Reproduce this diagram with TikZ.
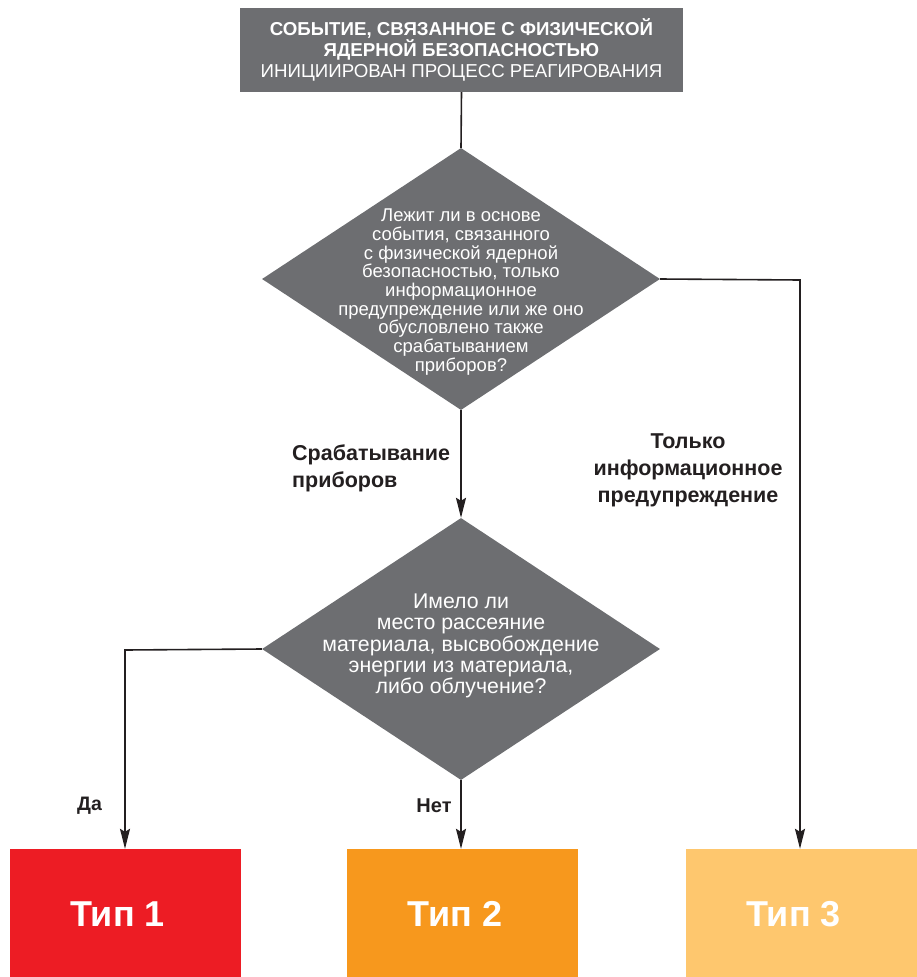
\documentclass[tikz,border=0pt]{standalone}
\usepackage{fontspec}
\setmainfont{Liberation Sans}
\usetikzlibrary{arrows.meta,shapes.geometric}
\definecolor{boxgray}{HTML}{6D6E71}
\definecolor{linecol}{HTML}{231F20}
\definecolor{tipred}{HTML}{ED1C24}
\definecolor{tiporange}{HTML}{F7981D}
\definecolor{tiplight}{HTML}{FEC76E}
\tikzset{
  conn/.style={draw=linecol, line width=1.6pt},
  arr/.style={conn, -{Stealth[length=20pt,width=10pt,inset=3pt]}},
  decision/.style={diamond, fill=boxgray, draw=none, inner sep=0pt, minimum width=398pt, minimum height=262pt},
  dtext/.style={text=white, align=center, inner sep=0pt},
  tipbox/.style={rectangle, draw=none, minimum width=231pt, minimum height=128pt, inner sep=0pt},
  tiptext/.style={text=white, inner sep=0pt, font=\fontsize{36}{40}\selectfont\bfseries},
  lbl/.style={text=linecol, inner sep=0pt, font=\fontsize{21.5}{27}\selectfont\bfseries}
}
\begin{document}
\begin{tikzpicture}[x=1pt,y=-1pt]
\useasboundingbox (0,0) rectangle (917,977);
% top box
\node[rectangle, fill=boxgray, minimum width=443pt, minimum height=84pt, inner sep=0pt] (top) at (461.5,50) {};
\node[text=white, align=center, inner sep=0pt, font=\fontsize{18.7}{21.3}\selectfont] (toptext) at (461.5,50)
  {\textbf{СОБЫТИЕ, СВЯЗАННОЕ С ФИЗИЧЕСКОЙ}\\\textbf{ЯДЕРНОЙ БЕЗОПАСНОСТЬЮ}\\ИНИЦИИРОВАН ПРОЦЕСС РЕАГИРОВАНИЯ};
% diamond 1
\node[decision] (d1) at (461,279) {};
\node[dtext, font=\fontsize{18.5}{18.7}\selectfont] (d1text) at (461,292)
  {Лежит ли в основе\\события, связанного\\с физической ядерной\\безопасностью, только\\информационное\\предупреждение или же оно\\обусловлено также\\срабатыванием\\приборов?};
% diamond 2
\node[decision] (d2) at (461,649) {};
\node[dtext, font=\fontsize{21.3}{21.2}\selectfont] (d2text) at (461,646)
  {Имело ли\\место рассеяние\\материала, высвобождение\\энергии из материала,\\либо облучение?};
% bottom boxes
\node[tipbox, fill=tipred] (t1) at (125.5,913) {};
\node[tipbox, fill=tiporange] (t2) at (462.5,913) {};
\node[tipbox, fill=tiplight] (t3) at (801.5,913) {};
\node[tiptext] (t1text) at (117.5,914) {Тип 1};
\node[tiptext] (t2text) at (455,914) {Тип 2};
\node[tiptext] (t3text) at (793.5,914) {Тип 3};
% corner coordinates
\coordinate (c1) at (800,280);
\coordinate (c2) at (125,650);
% connectors
\draw[conn] (top.south) -- (d1.north);
\draw[arr] (d1.south) -- (d2.north);
\draw[arr] (d1.east) -- (c1) -- (c1 |- t3.north);
\draw[arr] (d2.west) -- (c2) -- (c2 |- t1.north);
\draw[arr] (d2.south) -- (d2.south |- t2.north);
% labels
\node[lbl, align=left, anchor=west] (l1) at (292,468) {Срабатывание\\приборов};
\node[lbl, align=center] (l2) at (688,470) {Только\\информационное\\предупреждение};
\node[lbl, font=\fontsize{19.5}{22}\selectfont\bfseries] (l3) at (89.5,806) {Да};
\node[lbl, font=\fontsize{20}{22}\selectfont\bfseries] (l4) at (434,806) {Нет};
\end{tikzpicture}
\end{document}
